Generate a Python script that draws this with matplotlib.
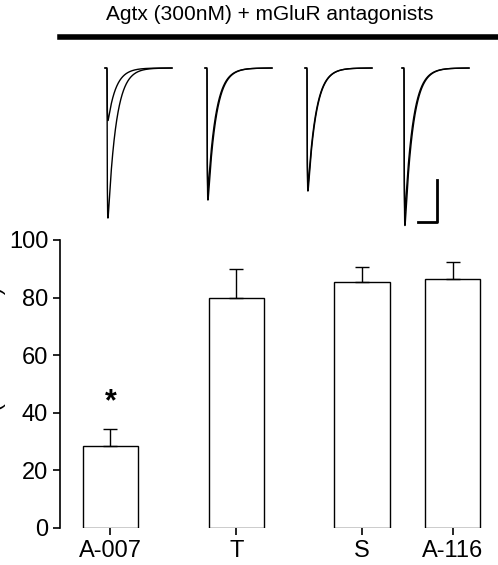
import numpy as np
import matplotlib
matplotlib.use("Agg")
import matplotlib.pyplot as plt
plt.rcParams['font.family'] = ['Liberation Sans', 'DejaVu Sans']

categories = ["A-007", "T", "S", "A-116"]
values = [28.5, 80.0, 85.5, 86.5]
errors = [6.0, 10.0, 5.0, 6.0]
trace_peaks_a = [1.0, 0.88, 0.82, 1.05]
trace_peaks_b = [0.35, 0.80, 0.78, 0.95]

W, H = 498, 565
fig = plt.figure(figsize=(W/100, H/100), dpi=100)

def px(x0, y0, x1, y1):
    return [x0/W, 1-y1/H, (x1-x0)/W, (y1-y0)/H]

ax = fig.add_axes(px(60, 240, 498, 528))
xs = np.array([0, 1, 2, 2.72])
ax.bar(xs, values, width=0.44, color="white", edgecolor="black", linewidth=1.0)
ax.errorbar(xs, values, yerr=[np.zeros(4), errors], fmt="none", ecolor="black",
            capsize=5, elinewidth=1.0, capthick=1.0)
ax.set_xlim(-0.4, 3.08)
ax.set_ylim(0, 100)
ax.set_yticks([0, 20, 40, 60, 80, 100])
ax.set_xticks(xs)
ax.set_xticklabels(categories)
ax.tick_params(labelsize=17, width=1.2, length=5)
ax.spines["top"].set_visible(False)
ax.spines["right"].set_visible(False)
ax.spines["bottom"].set_visible(False)
ax.spines["left"].set_linewidth(1.2)
ax.set_ylabel("eIPSC (% baseline)", fontsize=16, labelpad=2)
ax.text(0, values[0]+errors[0]+4, "*", ha="center", va="bottom", fontsize=22, fontweight="bold")

tax = fig.add_axes([0, 0, 1, 1])
tax.set_xlim(0, W); tax.set_ylim(H, 0); tax.axis("off")
starts = [105, 205, 305, 402]
base_y = 68
t = np.linspace(0, 1, 400)
shape = np.where(t < 0.03, 0, (1-np.exp(-(t-0.03)/0.004))*np.exp(-(t-0.03)/0.12))
shape = shape/shape.max()
for s, a, b in zip(starts, trace_peaks_a, trace_peaks_b):
    for amp in (a, b):
        tax.plot(s + t*67, base_y + shape*amp*150, color="black", lw=1.0)
tax.plot([437, 437, 418], [180, 222, 222], color="black", lw=2)
tax.plot([60, 498], [37, 37], color="black", lw=4)
tax.text(270, 14, "Agtx (300nM) + mGluR antagonists", ha="center", va="center", fontsize=15)

fig.savefig("out.png", dpi=100)
